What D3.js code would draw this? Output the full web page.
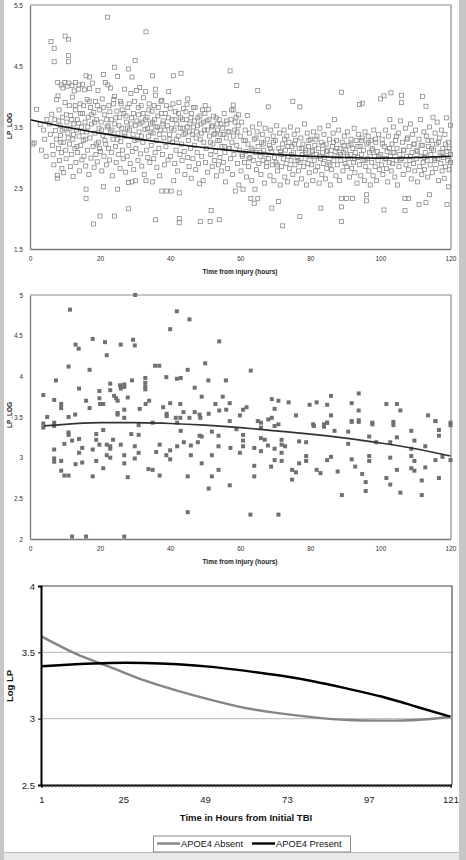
<!DOCTYPE html>
<html><head><meta charset="utf-8">
<script src="https://cdn.jsdelivr.net/npm/d3@7"></script>
<style>
html,body{margin:0;padding:0;background:#e8e8e8;}
svg{display:block;font-family:"Liberation Sans",Arial,sans-serif;}
</style></head><body>
<svg id="c" width="466" height="860"></svg>
<script>
// ---------- Panel 1: all patients (hours, LP_LOG) ----------
const p1Points = [
[0.8,3.22],[1.2,3.24],[1.9,3.79],[2.9,3.54],[3.3,3.12],[3.9,3.45],[4.2,3.30],[4.6,3.02],[4.8,3.62],
[6.0,4.90],[6.9,4.79],[6.9,4.57],[5.5,3.55],[5.8,3.38],[6.2,3.71],[6.4,3.20],[6.6,3.05],[6.8,2.88],[7.1,3.62],[7.3,3.44],[7.5,3.30],[7.6,3.95],[7.8,2.71],[7.8,2.66],[7.9,4.23],[8.0,4.01],[8.1,3.15],[8.3,3.78],[8.4,2.95],[8.6,3.52],[8.7,3.36],[8.9,4.19],[9.0,3.08],[9.1,2.82],[9.3,3.66],[9.4,4.14],[9.5,3.25],[9.6,2.75],[9.8,3.48],[9.9,4.23],[10.0,4.99],[10.0,3.90],
[10.2,3.12],[10.3,2.98],[10.5,3.58],[10.6,4.17],[10.8,3.40],[11.0,4.94],[11.0,4.67],[11.0,4.57],[11.1,4.22],[11.2,3.85],[11.3,3.22],[11.5,2.85],[11.6,3.69],[11.8,3.05],[12.0,4.18],[12.1,3.99],[12.2,3.30],[12.3,2.69],[12.5,3.55],[12.6,4.09],[12.8,3.15],[13.0,4.23],[13.0,3.78],[13.1,2.92],[13.3,3.45],[13.5,3.62],[13.6,3.08],[13.8,4.12],[14.0,4.19],[14.0,3.35],[14.1,2.78],[14.3,3.88],[14.5,3.20],[14.7,3.50],[14.8,2.96],[15.0,4.20],[15.0,3.72],[15.2,3.28],[15.4,3.02],[15.6,4.11],[15.7,3.58],[15.9,2.86],[16.0,4.34],[16.0,2.48],[16.0,2.33],[16.1,3.42],[16.3,3.95],[16.4,3.12],[16.6,3.66],[16.8,2.72],[17.0,4.32],[17.0,4.13],[17.1,3.32],[17.3,3.82],[17.4,2.99],[17.6,3.55],[17.8,4.22],[18.0,3.18],[18.1,1.91],[18.2,3.74],[18.3,2.84],[18.5,3.40],[18.7,3.92],[18.8,3.05],[19.0,3.62],[19.2,2.93],[19.4,4.10],[19.5,3.25],[19.7,3.48],[19.9,3.78],
[20.0,2.04],[20.1,3.10],[20.3,3.58],[20.5,2.78],[20.6,3.96],[20.8,3.36],[21.0,4.36],[21.0,2.52],[21.1,3.02],[21.3,3.70],[21.5,4.23],[21.6,3.22],[21.8,2.88],[22.0,3.50],[22.1,5.30],[22.2,4.19],[22.4,3.15],[22.5,3.85],[22.7,2.96],[22.9,3.42],[23.0,4.14],[23.2,3.62],[23.3,3.08],[23.5,2.70],[23.7,3.30],[23.9,3.95],[24.1,4.48],[24.1,4.00],[24.1,2.04],[24.2,3.55],[24.4,3.18],[24.6,2.92],[24.8,3.76],[25.0,4.33],[25.0,2.48],[25.1,3.40],[25.3,3.05],[25.5,3.66],[25.7,2.82],[25.9,3.26],[26.0,3.88],[26.2,3.48],[26.4,3.12],[26.6,2.98],[26.8,3.72],[27.0,4.12],[27.1,3.35],[27.3,2.76],[27.5,3.58],[27.7,3.02],[27.9,3.82],[28.1,4.45],[28.1,2.59],[28.1,2.16],[28.2,3.20],[28.4,3.45],[28.6,2.90],[28.8,4.05],[29.0,3.65],[29.1,4.32],[29.1,2.60],[29.2,3.10],[29.4,3.38],[29.6,2.80],[29.8,3.92],[30.0,4.59],
[30.0,3.52],[30.1,2.62],[30.2,3.15],[30.4,4.10],[30.6,3.30],[30.8,2.95],[31.0,3.70],[31.1,3.42],[31.3,4.15],[31.5,3.06],[31.7,3.85],[31.9,2.86],[32.0,3.58],[32.2,3.25],[32.4,3.98],[32.6,2.72],[32.8,3.46],[33.0,4.08],[33.1,5.06],[33.1,2.62],[33.2,3.12],[33.4,3.66],[33.6,3.00],[33.8,3.35],[34.0,3.88],[34.2,2.92],[34.4,3.55],[34.6,3.20],[34.8,3.76],[35.0,4.34],[35.0,2.60],[35.1,3.40],[35.3,2.98],[35.5,3.62],[35.7,3.08],[35.8,4.12],[35.8,4.02],[35.8,1.98],[36.0,3.28],[36.2,2.84],[36.4,3.50],[36.6,3.82],[36.8,3.15],[37.0,2.70],[37.2,3.45],[37.4,3.92],[37.6,3.94],[37.6,2.45],[37.8,3.05],[38.0,3.60],[38.2,3.32],[38.4,2.88],[38.6,3.72],[38.8,3.18],[39.0,2.45],[39.2,3.52],[39.4,2.96],[39.6,4.08],[39.8,3.38],
[40.0,3.80],[40.1,3.02],[40.3,2.45],[40.5,3.62],[40.7,3.25],[40.9,4.34],[41.0,2.62],[41.1,3.45],[41.3,2.90],[41.5,3.75],[41.7,3.12],[41.9,3.55],[42.1,2.78],[42.3,3.35],[42.5,3.90],[42.6,2.42],[42.6,2.00],[42.6,1.93],[42.8,3.05],[43.0,3.65],[43.1,4.38],[43.2,3.22],[43.4,2.95],[43.6,3.48],[43.8,3.80],[44.0,3.10],[44.2,2.72],[44.4,3.40],[44.6,3.62],[44.8,3.87],[45.0,3.96],[45.0,3.00],[45.2,3.28],[45.4,2.85],[45.6,3.55],[45.8,3.15],[46.0,2.66],[46.1,3.72],[46.3,3.38],[46.5,2.98],[46.7,3.50],[46.9,3.20],[47.1,3.82],[47.3,2.80],[47.5,3.42],[47.7,3.08],[47.9,3.65],[48.1,2.90],[48.4,2.57],[48.6,1.95],[48.6,3.30],[48.8,3.55],[49.0,3.02],[49.2,3.78],[49.4,2.62],[49.6,3.25],[49.8,3.45],[50.0,3.85],
[50.1,2.92],[50.3,3.15],[50.5,3.60],[50.7,2.76],[51.0,3.79],[51.2,3.35],[51.4,1.95],[51.6,3.05],[51.7,2.13],[51.8,3.50],[52.0,2.85],[52.2,3.22],[52.4,3.68],[52.6,2.95],[52.8,3.40],[53.0,3.10],[53.2,2.70],[53.4,3.55],[53.6,3.28],[53.8,2.88],[54.0,1.98],[54.0,3.62],[54.2,3.00],[54.4,3.38],[54.6,2.78],[54.8,3.18],[55.0,3.48],[55.2,2.92],[55.4,3.72],[55.6,3.08],[55.8,2.60],[56.0,3.32],[56.2,3.55],[56.4,2.82],[56.6,3.15],[56.8,3.42],[57.1,4.42],[57.2,2.98],[57.4,3.62],[57.6,3.25],[57.8,2.72],[58.0,3.86],[58.0,3.78],[58.2,3.05],[58.4,3.45],[58.6,2.45],[58.8,3.66],[59.0,4.18],[59.0,3.20],[59.2,2.90],[59.4,3.52],[59.6,2.55],[59.8,3.12],
[60.0,3.35],[60.2,2.78],[60.4,3.58],[60.6,3.02],[60.8,2.48],[61.0,3.28],[61.2,2.92],[61.4,3.45],[61.6,3.10],[61.8,2.68],[62.0,3.69],[62.2,3.22],[62.4,2.85],[62.6,3.40],[62.8,3.00],[63.0,2.33],[63.1,3.15],[63.3,2.62],[63.5,3.50],[63.7,2.95],[64.0,2.25],[64.0,3.30],[64.2,2.48],[64.4,3.08],[64.6,2.80],[64.8,3.42],[65.0,4.10],[65.0,2.33],[65.1,3.18],[65.3,2.90],[65.5,3.55],[65.7,3.02],[65.9,2.72],[66.1,3.25],[66.3,3.38],[66.5,2.95],[66.7,3.12],[66.9,2.58],[67.1,3.48],[67.3,3.05],[67.5,2.85],[67.7,3.30],[68.0,3.83],[68.1,2.98],[68.3,3.20],[68.5,2.70],[68.7,3.45],[69.0,2.17],[69.0,3.10],[69.2,2.88],[69.4,3.35],[69.6,2.62],[69.8,3.00],
[70.0,3.28],[70.2,2.92],[70.4,3.52],[70.6,2.78],[70.9,2.28],[71.0,3.15],[71.2,3.40],[71.4,2.55],[71.6,3.05],[71.8,2.85],[72.1,1.88],[72.1,3.22],[72.3,2.98],[72.5,3.45],[72.7,2.68],[72.9,3.12],[73.1,2.90],[73.3,3.35],[73.5,2.60],[73.7,3.02],[73.9,3.25],[74.1,2.82],[74.3,3.50],[74.5,2.95],[74.7,3.18],[75.0,3.92],[75.0,2.72],[75.2,3.08],[75.4,3.38],[75.6,2.88],[75.8,3.28],[76.0,2.58],[76.2,3.00],[76.4,3.45],[76.6,2.78],[76.8,3.15],[77.0,3.83],[77.0,2.03],[77.1,2.92],[77.3,3.32],[77.5,2.65],[77.7,3.05],[77.9,3.22],[78.1,2.85],[78.3,3.55],[78.5,2.98],[78.7,3.12],[78.9,2.55],[79.1,3.40],[79.3,2.90],[79.5,3.18],[79.7,2.75],[79.9,3.02],
[80.1,3.30],[80.3,2.88],[80.5,3.10],[80.7,2.62],[80.9,3.42],[81.1,2.95],[81.3,3.20],[81.5,2.78],[81.7,3.05],[81.9,3.35],[82.1,2.85],[82.3,3.15],[82.5,2.58],[82.7,3.48],[82.9,2.98],[83.0,2.17],[83.1,3.25],[83.3,2.72],[83.5,3.08],[83.7,2.90],[83.9,3.38],[84.1,3.00],[84.3,2.65],[84.5,3.22],[84.7,2.82],[84.9,3.12],[85.1,3.52],[85.3,2.92],[85.5,3.30],[85.7,2.55],[85.9,3.05],[86.1,2.80],[86.3,3.18],[86.5,3.40],[86.7,2.95],[86.9,3.62],[87.1,3.10],[87.3,2.70],[87.5,3.28],[87.7,2.88],[87.9,3.02],[88.1,3.45],[88.3,2.62],[88.5,3.15],[88.7,2.95],[88.9,4.07],[88.9,1.95],[88.9,2.19],[88.9,2.33],[89.1,3.25],[89.3,2.78],[89.5,3.08],[89.7,3.35],[89.9,2.90],
[90.1,3.12],[90.3,2.33],[90.4,2.85],[90.6,3.42],[90.8,2.98],[91.0,3.20],[91.2,2.68],[91.4,3.05],[91.6,3.30],[91.8,2.82],[92.0,2.33],[92.1,3.15],[92.3,2.92],[92.5,3.48],[92.7,2.75],[92.9,3.08],[93.1,3.28],[93.3,2.58],[93.5,3.00],[93.7,3.38],[94.0,3.87],[94.0,2.88],[94.2,3.18],[94.4,2.70],[94.6,3.05],[94.8,3.89],[94.8,3.32],[95.0,2.95],[95.2,3.12],[95.4,2.62],[95.6,3.42],[95.8,2.85],[96.0,2.39],[96.0,2.29],[96.1,3.22],[96.3,2.98],[96.5,3.35],[96.7,2.78],[96.9,3.08],[97.1,2.55],[97.3,3.28],[97.5,2.92],[97.7,3.15],[97.9,2.70],[98.1,3.45],[98.3,3.02],[98.5,2.85],[98.7,3.25],[98.9,2.62],[99.1,3.10],[99.3,2.95],[99.5,3.38],[99.7,2.80],[100.0,3.96],
[100.1,3.05],[100.3,2.88],[100.5,3.30],[100.7,2.72],[101.0,4.01],[101.0,2.14],[101.1,3.18],[101.3,2.98],[101.5,3.45],[101.7,2.82],[101.9,3.10],[102.1,2.60],[102.3,3.35],[102.5,2.92],[102.7,3.62],[102.9,3.02],[103.0,4.06],[103.1,2.78],[103.3,3.22],[103.5,2.90],[103.7,3.50],[103.9,3.08],[104.1,2.68],[104.3,3.28],[104.5,2.95],[104.7,3.15],[104.9,2.55],[105.1,3.40],[105.3,2.85],[105.5,3.05],[105.7,3.60],[106.0,4.02],[106.0,3.90],[106.1,2.98],[106.3,3.25],[106.5,2.72],[106.7,3.12],[107.0,2.13],[107.0,2.33],[107.1,3.48],[107.3,2.88],[107.5,3.02],[107.7,3.32],[108.0,2.33],[108.0,2.80],[108.2,3.18],[108.4,2.95],[108.6,3.55],[108.8,2.65],[109.0,3.08],[109.2,3.38],[109.4,2.90],[109.6,3.22],[109.8,2.78],
[110.0,3.45],[110.2,2.98],[110.4,3.12],[110.6,2.60],[111.0,2.23],[111.0,3.30],[111.2,2.85],[111.4,3.62],[111.6,3.02],[111.8,2.72],[112.0,4.00],[112.0,3.20],[112.2,2.92],[112.4,3.42],[112.6,2.80],[112.8,3.08],[113.0,3.84],[113.0,2.26],[113.1,3.35],[113.3,2.95],[113.5,2.68],[113.7,3.18],[114.0,2.39],[114.0,3.50],[114.2,2.88],[114.4,3.05],[114.6,3.28],[114.8,2.75],[115.0,3.66],[115.2,3.12],[115.4,2.95],[115.6,3.40],[115.8,2.82],[116.0,3.22],[116.2,3.58],[116.4,2.98],[116.6,2.62],[116.8,3.32],[117.0,3.08],[117.2,2.90],[117.4,3.45],[117.6,2.78],[117.8,3.15],[118.0,3.00],[118.2,2.66],[118.4,3.38],[118.6,2.85],[118.8,3.65],[119.0,2.23],[119.0,3.10],[119.2,2.95],[119.4,2.52],[119.4,3.25],[119.6,2.80],[120.0,3.53],[120.0,3.05],[120.0,2.92],
[8.2,3.60],[8.8,3.25],[9.2,3.45],[10.4,3.70],[10.9,3.32],[11.4,3.48],[11.9,3.62],[12.4,3.38],[12.9,3.85],[13.4,3.18],[13.9,3.56],[14.4,3.72],[14.9,3.42],[15.3,3.85],[15.8,3.30],[16.5,3.50],[16.9,3.92],[17.5,3.70],[18.4,3.58],[18.9,3.22],[19.3,3.85],[19.8,3.15],[20.4,3.45],[20.9,3.82],[21.4,3.28],[21.9,3.62],[22.3,3.52],[22.8,3.75],[23.4,3.45],[23.8,3.88],[24.5,3.65],[24.9,3.30],[25.4,3.52],[25.8,3.92],[26.3,3.78],[26.9,3.40],[27.4,3.68],[27.8,3.48],[28.3,3.88],[28.9,3.55],[29.5,3.72],[29.9,3.28],[30.5,3.60],[30.9,3.82],[31.4,3.55],[31.8,3.35],[32.3,3.72],[32.9,3.62],[33.5,3.48],[33.9,3.78],[34.5,3.42],[34.9,3.58],[35.4,3.85],[35.9,3.50],[36.5,3.68],[36.9,3.38],[37.5,3.72],[37.9,3.55],[38.5,3.45],[38.9,3.85],[39.5,3.65],[39.9,3.30],[40.4,3.48],[40.8,3.88],[41.4,3.62],[41.8,3.30],[42.4,3.72],[42.9,3.48],[43.5,3.62],[43.9,3.38],[44.5,3.75],[44.9,3.50],[45.5,3.42],[45.9,3.65],[46.6,3.82],[46.9,3.60],[47.4,3.32],[47.8,3.52],[48.5,3.68],[48.9,3.40],[49.5,3.58],[49.9,3.72],[50.6,3.45],[51.1,3.62],[51.5,3.25],[52.1,3.52],[52.5,3.38],[53.1,3.65],[53.5,3.45],[54.1,3.28],[54.5,3.55],[55.1,3.38],[55.5,3.18],[56.1,3.60],[56.5,3.42],[57.0,3.15],[57.5,3.78],[58.1,3.35],[58.5,3.58],[59.1,3.42],[59.5,3.70],
[60.5,3.05],[61.5,3.28],[62.5,2.98],[63.6,3.12],[64.5,3.32],[65.6,3.08],[66.6,3.22],[67.6,2.92],[68.6,3.15],[69.5,3.25],[70.5,2.88],[71.5,3.10],[72.6,3.30],[73.6,3.18],[74.6,3.05],[75.5,3.22],[76.5,2.95],[77.6,3.15],[78.6,3.08],[79.6,3.28],[80.6,3.12],[81.6,3.30],[82.6,3.02],[83.6,3.20],[84.6,3.10],[85.6,2.88],[86.6,3.25],[87.6,3.15],[88.6,3.05],[89.6,3.20],[90.6,3.02],[91.6,3.22],[92.6,2.98],[93.6,3.18],[94.6,3.28],[95.6,2.95],[96.6,3.25],[97.6,3.12],[98.6,3.30],[99.6,3.02],[100.6,3.22],[101.6,2.98],[102.6,3.15],[103.6,3.08],[104.6,3.35],[105.6,2.95],[106.6,3.12],[107.6,3.30],[108.6,3.02],[109.6,3.22],[110.6,3.10],[111.6,3.20],[112.6,3.00],[113.6,3.28],[114.6,3.15],[115.6,2.98],[116.6,3.25],[117.6,3.08],[118.6,3.22],[119.6,3.15]
];
const p1TrendHours = [0,10,20,30,40,50,60,70,80,90,100,110,120];
const p1TrendValues = [3.62,3.50,3.40,3.31,3.23,3.16,3.10,3.05,3.02,3.00,2.99,3.00,3.02];
const p1YTicks = [1.5,2.5,3.5,4.5,5.5];

// ---------- Panel 2: APOE4 present (hours, LP_LOG) ----------
const p2Points = [
[30,5.0],[11.4,4.82],[41.9,4.80],[45.5,4.70],[40,4.58],[54,4.43],[17.9,4.46],[21.4,4.42],[29.4,4.45],[29.9,4.38],[13.0,4.39],[13.9,4.34],[25.9,4.39],[21.9,4.26],[11.0,4.12],[35.7,4.13],[36.9,4.13],[50,4.16],[17,4.08],[45,4.08],[63,4.07],
[7.4,3.95],[29.1,3.95],[32.9,3.98],[32.9,3.92],[38.9,3.99],[41.9,3.97],[43,3.98],[50.9,3.95],[55.9,3.95],[22.9,3.91],[25.7,3.89],[26.9,3.90],[26.9,3.87],[25.9,3.85],[32.9,3.87],[32.9,3.84],[14,3.85],[47,3.86],[19.8,3.82],[22.9,3.83],
[3.8,3.77],[24,3.76],[24.6,3.73],[16,3.70],[19.8,3.73],[6.9,3.71],[25,3.70],[27.9,3.74],[49,3.75],[55,3.75],[8.9,3.66],[8.9,3.61],[17,3.61],[20,3.66],[20.9,3.66],[33,3.66],[34,3.70],[38,3.62],[40,3.67],[42.9,3.66],[52.9,3.66],[57,3.67],
[31.3,3.60],[26.9,3.59],[25,3.55],[25,3.53],[39,3.54],[39,3.51],[43.8,3.56],[47,3.56],[48.4,3.53],[51,3.54],[54,3.58],[56,3.59],[12.9,3.53],[11,3.50],[4.9,3.50],[26.9,3.49],[41.6,3.49],[42.9,3.49],[45.5,3.49],[48.6,3.49],
[3.8,3.42],[6.9,3.43],[31,3.40],[35,3.43],[42,3.43],[57,3.45],[3.8,3.37],[6.9,3.39],
[6.9,3.10],[6.9,2.99],[6.9,2.95],[8.9,2.96],[8.9,2.84],[9.8,2.78],[11,2.78],[9.8,3.17],[11,3.31],[11,3.28],[12,3.21],[13,2.92],[14,3.23],[14,3.06],[14.9,3.12],[14.9,2.94],[17.9,3.10],[17.9,2.77],[18.9,3.29],[18.9,3.22],[18.9,2.96],[19.8,3.16],[20.9,3.34],[20.9,2.87],[21.9,3.16],[22.9,3.14],[22.9,3.11],[21.9,3.03],[22.9,3.00],[23.7,3.22],[25.9,3.16],[26.9,3.03],[26.9,2.93],[27.9,2.76],[28.9,3.29],[29.9,3.14],[29.9,2.99],[31,3.28],[31,3.06],[33.8,2.86],[35,2.85],[36,3.07],[37,3.16],[37,2.78],[38.9,3.03],[40,2.98],[40,3.09],[42,3.14],[43,3.33],[43.9,3.19],[45,2.77],[45,2.33],[45.9,3.15],[45.9,3.03],[47.9,3.19],[48.4,3.27],[49,3.26],[49,2.93],[51,2.62],[51.9,3.32],[51.9,3.03],[51.9,2.77],[53.8,3.27],[53.8,3.14],[53.8,2.85],[57,2.66],[57.2,3.12],[12,2.03],[16,2.03],[26.9,2.03],
[58.9,3.35],[59.9,3.06],[60.8,3.28],[60.8,3.21],[60.8,3.14],[64,3.12],[64,2.90],[64,2.77],[65,3.45],[65.9,3.37],[65.9,3.24],[67,3.22],[65.9,3.08],[67.9,3.15],[69.8,3.39],[69.8,3.11],[69.8,2.97],[68.8,2.89],[71.8,3.22],[71.8,3.16],[72.8,3.14],[71.8,3.06],[71.8,2.96],[74.8,2.85],[75.9,2.82],[74.8,2.73],[76.8,3.20],[76.8,2.93],[78.8,3.19],[78.8,3.02],[78.8,2.96],[81,3.39],[81.8,2.85],[82.9,2.81],[83.9,3.38],[84.8,3.43],[84.8,2.97],[85.9,3.01],[86.9,3.33],[87.8,2.83],[89,2.54],[90.8,3.32],[90.8,3.17],[91.8,2.98],[92.8,2.89],[91.8,3.45],[93.8,3.46],[94.8,2.80],[95.8,2.70],[95.8,2.59],[96.8,3.26],[96.8,3.02],[96.8,2.96],[97.7,3.43],[97.7,3.41],[98.8,3.19],[101.7,2.75],[102.8,2.67],[102.8,3.19],[102.8,3.00],[103.7,3.44],[103.7,3.40],[104.7,3.25],[104.7,2.85],[105.7,2.57],[108.8,3.33],[109.7,3.21],[108.8,3.11],[108.8,3.02],[109.7,2.96],[108.8,2.87],[109.7,2.84],[111.8,2.72],[111.8,2.54],[112.8,3.14],[112.8,2.88],[115.7,3.45],[115.7,2.97],[116.7,3.34],[116.7,3.27],[116.7,2.75],[117.7,3.01],[120,3.40],[120,2.97],[62.9,2.30],[70.9,2.30],
[59.9,3.52],[60.8,3.59],[61.8,3.62],[65.9,3.43],[68,3.47],[69,3.49],[69,3.72],[70.9,3.70],[69.8,3.60],[70.9,3.41],[73.8,3.68],[75.9,3.52],[79.8,3.65],[81.8,3.68],[80.8,3.41],[84.8,3.65],[85.9,3.76],[84.8,3.43],[85.9,3.52],[83.9,3.41],[91.8,3.67],[91.8,3.44],[93.8,3.44],[93.8,3.79],[93.8,3.58],[101.7,3.66],[104.7,3.66],[105.7,3.58],[113.6,3.52],[115.7,3.45],[120,3.43]
];
const p2TrendHours = [4,10,20,30,40,50,60,70,80,90,100,110,120];
const p2TrendValues = [3.39,3.41,3.43,3.43,3.42,3.40,3.37,3.33,3.29,3.24,3.18,3.11,3.02];
const p2YTicks = [2,2.5,3,3.5,4,4.5,5];
const xTicks12 = [0,20,40,60,80,100,120];

// ---------- Panel 3: fitted curves ----------
const p3Hours = [1,11,21,31,41,51,61,71,81,91,101,111,121];
const apoeAbsent  = [3.62,3.49,3.39,3.29,3.21,3.14,3.08,3.04,3.01,2.99,2.985,2.99,3.015];
const apoePresent = [3.395,3.41,3.42,3.42,3.41,3.39,3.36,3.325,3.28,3.225,3.165,3.09,3.015];
const p3Labels = [1,25,49,73,97,121];
const p3YTicks = [2.5,3,3.5,4];
const seriesNames = ["APOE4 Absent","APOE4 Present"];

const svg = d3.select("#c");
// page frame
svg.append("rect").attr("x",0).attr("y",0).attr("width",466).attr("height",860).attr("fill","#e9e9e9");
svg.append("rect").attr("x",4).attr("y",0).attr("width",455).attr("height",852).attr("fill","#fff");
svg.append("rect").attr("x",0).attr("y",0).attr("width",4).attr("height",860).attr("fill","#c6c6c6");
svg.append("rect").attr("x",459).attr("y",0).attr("width",7).attr("height",860).attr("fill","#c6c6c6");
svg.append("line").attr("x1",4).attr("x2",459).attr("y1",852.5).attr("y2",852.5).attr("stroke","#bdbdbd");

function scatterPanel(cfg){
  const x = d3.scaleLinear().domain([0,120]).range([30,450.5]);
  const y = d3.scaleLinear().domain(cfg.yDomain).range([cfg.bottom,cfg.top]);
  const g = svg.append("g");
  g.append("path").attr("d",`M30,${cfg.top}H451V${cfg.bottom}`).attr("fill","none").attr("stroke","#8c8c8c").attr("stroke-width",1.2);
  const s = 4;
  g.selectAll("rect.pt").data(cfg.points).join("rect").attr("class","pt")
    .attr("x",d=>x(d[0])-s/2).attr("y",d=>y(d[1])-s/2).attr("width",s).attr("height",s)
    .attr("fill",cfg.filled?"#707070":"#fff").attr("fill-opacity",cfg.filled?1:0)
    .attr("stroke",cfg.filled?"none":"#8a8a8a").attr("stroke-width",0.8);
  g.append("path").datum(cfg.trendH.map((h,i)=>[h,cfg.trendV[i]]))
    .attr("d",d3.line().x(d=>x(d[0])).y(d=>y(d[1])).curve(d3.curveNatural))
    .attr("fill","none").attr("stroke",cfg.trendColor).attr("stroke-width",1.7);
  const ax = g.append("g").attr("transform",`translate(0,${cfg.bottom})`)
    .call(d3.axisBottom(x).tickValues(xTicks12).tickSize(0).tickPadding(7).tickFormat(d3.format("d")));
  const ay = g.append("g").attr("transform","translate(30,0)")
    .call(d3.axisLeft(y).tickValues(cfg.yTicks).tickSize(0).tickPadding(7).tickFormat(d=>String(d)));
  [ax,ay].forEach(a=>{
    a.select(".domain").attr("stroke","#7a7a7a").attr("stroke-width",1.3);
    a.selectAll("text").attr("font-size",6.5).attr("fill","#333").attr("font-family","Liberation Sans, Arial, sans-serif");
  });
  g.append("text").attr("x",240).attr("y",cfg.bottom+25).attr("text-anchor","middle")
    .attr("font-size",6.5).attr("font-weight","bold").attr("fill","#222").text("Time from injury (hours)");
  g.append("text").attr("transform",`translate(12,${cfg.ytitleY}) rotate(-90)`).attr("text-anchor","middle")
    .attr("font-size",6.5).attr("font-weight","bold").attr("fill","#222").text("LP_LOG");
}

scatterPanel({points:p1Points, yDomain:[1.5,5.5], top:5, bottom:249, yTicks:p1YTicks,
  trendH:p1TrendHours, trendV:p1TrendValues, filled:false, trendColor:"#111", ytitleY:126});
scatterPanel({points:p2Points, yDomain:[2,5], top:295, bottom:539, yTicks:p2YTicks,
  trendH:p2TrendHours, trendV:p2TrendValues, filled:true, trendColor:"#333", ytitleY:415});

// ---------- Panel 3 ----------
(function(){
  const cats = d3.range(1,122);
  const x = d3.scalePoint().domain(cats).range([41.5,450.5]);
  const y = d3.scaleLinear().domain([2.5,4]).range([785,586]);
  const g = svg.append("g");
  g.selectAll("line.grid").data([3,3.5]).join("line").attr("class","grid")
    .attr("x1",41).attr("x2",452).attr("y1",d=>y(d)).attr("y2",d=>y(d))
    .attr("stroke","#c4c4c4").attr("stroke-width",1.4);
  g.append("path").attr("d",`M41,${y(4)}H452V${y(2.5)}`).attr("fill","none").attr("stroke","#444").attr("stroke-width",1.1);
  const line = d3.line().x(d=>x(d[0])).y(d=>y(d[1])).curve(d3.curveNatural);
  g.append("path").datum(p3Hours.map((h,i)=>[h,apoeAbsent[i]])).attr("d",line)
    .attr("fill","none").attr("stroke","#858585").attr("stroke-width",2.4);
  g.append("path").datum(p3Hours.map((h,i)=>[h,apoePresent[i]])).attr("d",line)
    .attr("fill","none").attr("stroke","#000").attr("stroke-width",2.4);
  const lab = new Set(p3Labels);
  const ax = g.append("g").attr("transform","translate(0,785)")
    .call(d3.axisBottom(x).tickValues(cats).tickSize(2.5).tickPadding(9).tickFormat(d=>lab.has(d)?String(d):""));
  ax.select(".domain").attr("stroke","#000").attr("stroke-width",2);
  ax.selectAll(".tick line").attr("stroke","#555").attr("stroke-width",0.8);
  const ay = g.append("g").attr("transform","translate(41,0)")
    .call(d3.axisLeft(y).tickValues(p3YTicks).tickSize(3).tickPadding(3).tickFormat(d=>String(d)));
  ay.select(".domain").attr("stroke","#000").attr("stroke-width",2);
  ay.selectAll(".tick line").attr("stroke","#000");
  [ax,ay].forEach(a=>a.selectAll("text").attr("font-size",9.5).attr("fill","#222").attr("font-family","Liberation Sans, Arial, sans-serif"));
  g.append("text").attr("x",246).attr("y",820.5).attr("text-anchor","middle")
    .attr("font-size",9.5).attr("font-weight","bold").attr("fill","#111").text("Time in Hours from Initial TBI");
  g.append("text").attr("transform","translate(13,686) rotate(-90)").attr("text-anchor","middle")
    .attr("font-size",9.5).attr("font-weight","bold").attr("fill","#111").text("Log LP");
  const lg = g.append("g");
  lg.append("rect").attr("x",153.5).attr("y",836).attr("width",197).attr("height",16)
    .attr("fill","#fff").attr("stroke","#8a8a8a").attr("stroke-width",1);
  const items = [{x:157,c:"#858585"},{x:252,c:"#000"}];
  items.forEach((it,i)=>{
    lg.append("line").attr("x1",it.x).attr("x2",it.x+23).attr("y1",843.5).attr("y2",843.5).attr("stroke",it.c).attr("stroke-width",2.4);
    lg.append("text").attr("x",it.x+24).attr("y",847).attr("font-size",9.3).attr("fill","#111").text(seriesNames[i]);
  });
})();
</script>
</body></html>
